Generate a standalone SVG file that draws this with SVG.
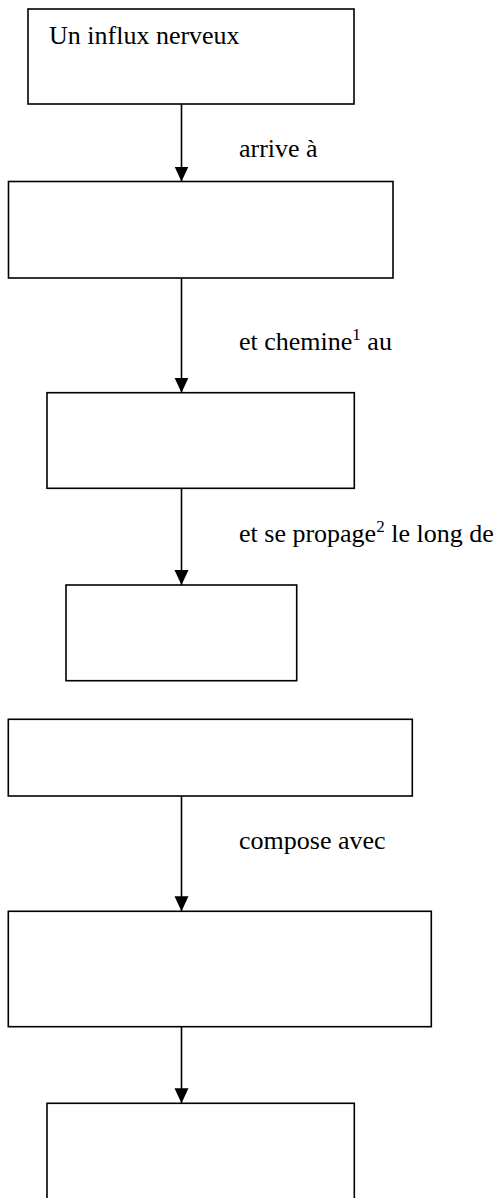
<svg xmlns="http://www.w3.org/2000/svg" width="503" height="1198" viewBox="0 0 503 1198">
<style>
.box{fill:#fff;stroke:#000;stroke-width:1.6}
.edge{stroke:#000;stroke-width:1.6;fill:none}
.t{font-family:"Liberation Serif","Times New Roman",serif;font-size:26px;fill:#000}
.sup{font-size:17px}
</style>
<defs>
<marker id="ah" markerUnits="userSpaceOnUse" markerWidth="16" markerHeight="16" viewBox="0 0 16 16" refX="15" refY="8" orient="auto">
<path d="M0,1 L15,8 L0,15 Z" fill="#000"/>
</marker>
</defs>
<rect width="503" height="1198" fill="#fff"/>
<g id="n1"><rect class="box" x="28" y="9" width="326" height="95"/><text class="t" x="49" y="44">Un influx nerveux</text></g>
<g id="n2"><rect class="box" x="8.5" y="181.5" width="384.5" height="96.5"/></g>
<g id="n3"><rect class="box" x="47" y="392.7" width="307.3" height="95.6"/></g>
<g id="n4"><rect class="box" x="66" y="585" width="230.7" height="95.7"/></g>
<g id="n5"><rect class="box" x="8.3" y="719.3" width="404" height="76.7"/></g>
<g id="n6"><rect class="box" x="8.3" y="911.3" width="423" height="115.4"/></g>
<g id="n7"><rect class="box" x="47" y="1103.3" width="307.3" height="110"/></g>
<g id="edges">
<line class="edge" x1="181.5" y1="104" x2="181.5" y2="181.5" marker-end="url(#ah)"/>
<line class="edge" x1="181.5" y1="278" x2="181.5" y2="392.7" marker-end="url(#ah)"/>
<line class="edge" x1="181.5" y1="488.3" x2="181.5" y2="585" marker-end="url(#ah)"/>
<line class="edge" x1="181.5" y1="796" x2="181.5" y2="911.3" marker-end="url(#ah)"/>
<line class="edge" x1="181.5" y1="1026.7" x2="181.5" y2="1103.3" marker-end="url(#ah)"/>
<text class="t" x="239" y="157">arrive à</text>
<text class="t" x="239" y="350">et chemine<tspan class="sup" dy="-10">1</tspan><tspan dy="10"> au</tspan></text>
<text class="t" x="239" y="542">et se propage<tspan class="sup" dy="-10">2</tspan><tspan dy="10"> le long de</tspan></text>
<text class="t" x="239" y="849">compose avec</text>
</g>
</svg>
